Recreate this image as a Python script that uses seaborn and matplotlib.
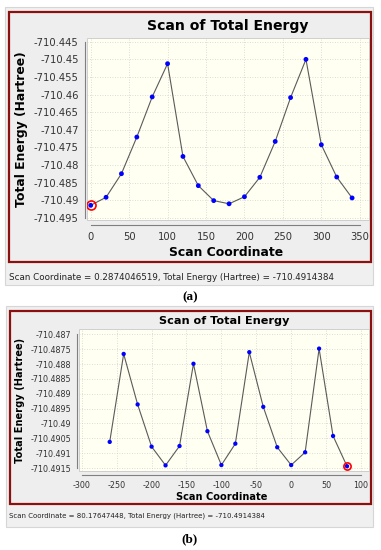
import matplotlib
matplotlib.use("Agg")
import matplotlib.pyplot as plt
from matplotlib.patches import Rectangle
from matplotlib.ticker import MultipleLocator
import pandas as pd
import seaborn as sns

W, H = 381, 550

# (a) scan 0..340
coord_a = [0, 20, 40, 60, 80, 100, 120, 140, 160, 180, 200, 220, 240, 260, 280, 300, 320, 340]
energy_a = [-710.49144, -710.48915, -710.48246, -710.47206, -710.46066, -710.45123,
            -710.47756, -710.48585, -710.49010, -710.49100, -710.48900, -710.48348,
            -710.47330, -710.46085, -710.45000, -710.47424, -710.48340, -710.48934]
xticks_a = [0, 50, 100, 150, 200, 250, 300, 350]
yticks_a = [-710.445, -710.45, -710.455, -710.46, -710.465, -710.47,
            -710.475, -710.48, -710.485, -710.49, -710.495]
yticklabels_a = ["-710.445", "-710.45", "-710.455", "-710.46", "-710.465", "-710.47",
                 "-710.475", "-710.48", "-710.485", "-710.49", "-710.495"]
status_a = "Scan Coordinate = 0.2874046519, Total Energy (Hartree) = -710.4914384"

# (b) scan -260..80
coord_b = [-260, -240, -220, -200, -180, -160, -140, -120, -100, -80, -60, -40, -20, 0, 20, 40, 60, 80]
energy_b = [-710.49062, -710.48766, -710.48936, -710.49078, -710.49141, -710.49076,
            -710.48799, -710.49026, -710.49140, -710.49068, -710.48760, -710.48944,
            -710.49080, -710.49140, -710.49097, -710.48748, -710.49042, -710.49144]
xticks_b = [-300, -250, -200, -150, -100, -50, 0, 50, 100]
yticks_b = [-710.487, -710.4875, -710.488, -710.4885, -710.489, -710.4895,
            -710.49, -710.4905, -710.491, -710.4915]
yticklabels_b = ["-710.487", "-710.4875", "-710.488", "-710.4885", "-710.489", "-710.4895",
                 "-710.49", "-710.4905", "-710.491", "-710.4915"]
status_b = "Scan Coordinate = 80.17647448, Total Energy (Hartree) = -710.4914384"

sns.set_style("white")
plt.rcParams["font.family"] = ["DejaVu Sans"]
plt.rcParams["text.color"] = "black"

fig = plt.figure(figsize=(W / 100, H / 100), dpi=100)
fig.patch.set_facecolor("white")


def rect(l, t, r, b, **kw):
    fig.add_artist(Rectangle((l / W, 1 - b / H), (r - l) / W, (b - t) / H,
                             transform=fig.transFigure, zorder=-10, **kw))


def panel(coords, energy, sel, xticks, yticks, ylabels, xlim, ylim, box, frame, s, status, tag):
    gl, gt, gr, gb = frame
    # window background + status bar
    rect(gl - 4, gt - 5, gr + 2, gb + 23, facecolor="#f0f0f0", edgecolor="#d6d6d6", lw=0.8)
    rect(gl, gt, gr, gb, facecolor="#eeeeee", edgecolor="#8b1010", lw=1.6)

    l, t, r, b = box
    ax = fig.add_axes([l / W, 1 - b / H, (r - l) / W, (b - t) / H])
    ax.set_facecolor("#fffff2")
    df = pd.DataFrame({"x": coords, "y": energy})
    sns.lineplot(data=df, x="x", y="y", ax=ax, color="#5a5a5a", lw=0.8, zorder=2)
    sns.scatterplot(data=df, x="x", y="y", ax=ax, color="#0000ff", s=12 * s, edgecolor="none", zorder=3)
    ax.plot(coords[sel], energy[sel], "o", ms=6.5 * s, mfc="none", mec="#ff0000", mew=1.2, zorder=4)

    ax.set_xlim(*xlim)
    ax.set_ylim(*ylim)
    ax.set_xticks(xticks, [str(v) for v in xticks])
    ax.set_yticks(yticks, ylabels)
    ax.xaxis.set_minor_locator(MultipleLocator(5))
    ax.grid(True, which="major", color="#d0d0d0", lw=0.6, ls=(0, (1, 2)))
    ax.set_xlabel("")
    ax.set_ylabel("")

    for side in ["top", "right"]:
        ax.spines[side].set_visible(False)
    ax.spines["left"].set_position(("outward", 1.5))
    ax.spines["bottom"].set_position(("outward", 3.5 * s))
    ax.spines["left"].set_bounds(yticks[-1], yticks[0])
    ax.spines["bottom"].set_bounds(xticks[0], xticks[-1])
    for side in ["left", "bottom"]:
        ax.spines[side].set_color("#808080")
        ax.spines[side].set_linewidth(0.8)
    ax.add_artist(Rectangle((0, 0), 1, 1, transform=ax.transAxes, fill=False,
                            ec="#c8c8c8", lw=0.6, clip_on=False))
    ax.tick_params(axis="y", which="major", direction="out", length=3 * s, width=0.7,
                   color="#808080", labelsize=7.2 * s, labelcolor="#333333", pad=1.5)
    ax.tick_params(axis="x", which="major", direction="out", length=2.5 * s, width=0.7,
                   color="#808080", labelsize=7.2 * s, labelcolor="#333333", pad=3 * s)
    ax.tick_params(axis="x", which="minor", direction="out", length=1.6 * s, width=0.5,
                   color="#808080")

    cx = (l + r) / 2
    fig.text(cx / W, 1 - (gt + (t - gt) / 2 + 1) / H, "Scan of Total Energy",
             ha="center", va="center", fontsize=10.1 * s, fontweight="bold")
    fig.text((cx - 2) / W, 1 - (b + 33 * s) / H, "Scan Coordinate",
             ha="center", va="center", fontsize=8.9 * s, fontweight="bold")
    fig.text((gl + 13 * s) / W, 1 - ((t + b) / 2) / H, "Total Energy (Hartree)",
             ha="center", va="center", rotation=90, fontsize=8.9 * s, fontweight="bold")
    fig.text(9 / W, 1 - (gb + 15 * s) / H, status, ha="left", va="center",
             fontsize=6.3 * s, color="#222222")
    fig.text(190 / W, 1 - (gb + 23 + 12) / H, tag, ha="center", va="center",
             fontsize=9.5, family="Liberation Serif", fontweight="bold")
    return ax


panel(coord_a, energy_a, 0, xticks_a, yticks_a, yticklabels_a,
      (-4.8, 362), (-710.4956, -710.4438), (87, 37.5, 369, 220), (9, 12, 371, 262),
      1.0, status_a, "(a)")
panel(coord_b, energy_b, -1, xticks_b, yticks_b, yticklabels_b,
      (-304, 111.5), (-710.4916, -710.48682), (79, 329, 369, 471), (10, 311, 371, 504),
      0.8, status_b, "(b)")

fig.savefig("out.png", dpi=100)
